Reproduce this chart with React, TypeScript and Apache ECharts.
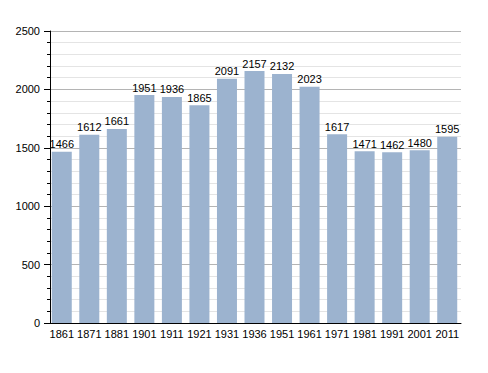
import React, { useEffect, useRef } from "react";
import * as echarts from "echarts";

const years = ["1861", "1871", "1881", "1901", "1911", "1921", "1931", "1936", "1951", "1961", "1971", "1981", "1991", "2001", "2011"];
const population = [1466, 1612, 1661, 1951, 1936, 1865, 2091, 2157, 2132, 2023, 1617, 1471, 1462, 1480, 1595];

export default function App() {
  const ref = useRef<HTMLDivElement>(null);
  useEffect(() => {
    if (!ref.current) return;
    const chart = echarts.init(ref.current, null, { renderer: "svg" });
    const font = "'Liberation Sans', Arial, sans-serif";
    chart.setOption({
      animation: false,
      backgroundColor: "#ffffff",
      grid: { left: 48, right: 27, top: 31, bottom: 50, containLabel: false },
      xAxis: {
        type: "category",
        data: years,
        axisLine: { show: true, lineStyle: { color: "#000", width: 1 } },
        axisTick: { show: false },
        axisLabel: { color: "#000", fontSize: 11, fontFamily: font, margin: 5, interval: 0 },
        splitLine: { show: false },
      },
      yAxis: {
        type: "value",
        min: 0,
        max: 2500,
        interval: 500,
        offset: -2,
        axisLine: { show: true, lineStyle: { color: "#000", width: 1 } },
        axisTick: { show: true, length: 6, lineStyle: { color: "#000" } },
        minorTick: { show: true, splitNumber: 5, length: 3, lineStyle: { color: "#000" } },
        axisLabel: { color: "#000", fontSize: 11, fontFamily: font, margin: 10, formatter: (v: number) => String(v) },
        splitLine: { show: true, lineStyle: { color: "#b4b4b4", width: 1 } },
        minorSplitLine: { show: true, lineStyle: { color: "#e4e4e4", width: 1 } },
      },
      series: [
        {
          type: "bar",
          data: population,
          barWidth: 20,
          itemStyle: { color: "#9cb3cf" },
          label: { show: true, position: "top", distance: 2, color: "#000", fontSize: 11, fontFamily: font },
        },
      ],
    });
    return () => chart.dispose();
  }, []);
  return <div ref={ref} style={{ width: 488, height: 373, marginLeft: -8, marginTop: -8 }} />;
}
